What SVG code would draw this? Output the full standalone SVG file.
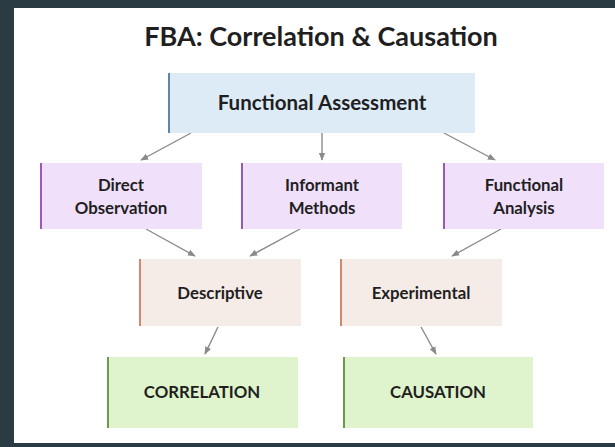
<svg xmlns="http://www.w3.org/2000/svg" width="615" height="447" viewBox="0 0 615 447">
  <style>
    text { font-family: Lato, "Open Sans", "Liberation Sans", sans-serif; font-weight: bold; fill: #1f1f1f; text-anchor: middle; }
    .title { font-size: 27px; }
    .lbl { font-size: 16.8px; }
    .lbl-top { font-size: 20.5px; }
    .edge { stroke: #8a8a8a; stroke-width: 1.4; fill: none; marker-end: url(#arrow); }
    .blue { fill: #ddebf7; }
    .purple { fill: #f0e0fa; }
    .peach { fill: #f6ece7; }
    .green { fill: #dff4cc; }
    .bar-blue { stroke: #5b87a8; stroke-width: 2; }
    .bar-purple { stroke: #9b59b6; stroke-width: 2; }
    .bar-peach { stroke: #d0896a; stroke-width: 2; }
    .bar-green { stroke: #6b9a4f; stroke-width: 2; }
  </style>
  <defs>
    <marker id="arrow" viewBox="0 0 10 10" refX="9" refY="5" markerWidth="8" markerHeight="8" markerUnits="userSpaceOnUse" orient="auto">
      <path d="M0,1 L10,5 L0,9 z" fill="#8a8a8a"/>
    </marker>
  </defs>

  <!-- frame -->
  <rect x="0" y="0" width="615" height="447" fill="#2b3b44"/>
  <rect x="14" y="8" width="601" height="435" fill="#ffffff"/>

  <text class="title" x="321" y="46">FBA: Correlation &amp; Causation</text>

  <g id="connectors">
    <line class="edge" x1="191" y1="133" x2="141" y2="160"/>
    <line class="edge" x1="322" y1="133" x2="322" y2="160"/>
    <line class="edge" x1="444" y1="133" x2="495" y2="160"/>
    <line class="edge" x1="146" y1="229" x2="195" y2="256"/>
    <line class="edge" x1="300" y1="229" x2="250" y2="256"/>
    <line class="edge" x1="501" y1="229" x2="452" y2="256"/>
    <line class="edge" x1="218" y1="327" x2="205" y2="354"/>
    <line class="edge" x1="421" y1="327" x2="436" y2="354"/>
  </g>

  <g id="functional-assessment">
    <rect class="blue" x="168" y="73" width="307" height="60"/>
    <line class="bar-blue" x1="169" y1="73" x2="169" y2="133"/>
    <text class="lbl-top" x="322" y="110">Functional Assessment</text>
  </g>

  <g id="direct-observation">
    <rect class="purple" x="40" y="163" width="162" height="66"/>
    <line class="bar-purple" x1="41" y1="163" x2="41" y2="229"/>
    <text class="lbl" x="121" y="191">Direct</text>
    <text class="lbl" x="121" y="214">Observation</text>
  </g>

  <g id="informant-methods">
    <rect class="purple" x="241" y="163" width="161" height="66"/>
    <line class="bar-purple" x1="242" y1="163" x2="242" y2="229"/>
    <text class="lbl" x="322" y="191">Informant</text>
    <text class="lbl" x="322" y="214">Methods</text>
  </g>

  <g id="functional-analysis">
    <rect class="purple" x="443" y="163" width="161" height="66"/>
    <line class="bar-purple" x1="444" y1="163" x2="444" y2="229"/>
    <text class="lbl" x="524" y="191">Functional</text>
    <text class="lbl" x="524" y="214">Analysis</text>
  </g>

  <g id="descriptive">
    <rect class="peach" x="139" y="259" width="162" height="67"/>
    <line class="bar-peach" x1="140" y1="259" x2="140" y2="326"/>
    <text class="lbl" x="220" y="299">Descriptive</text>
  </g>

  <g id="experimental">
    <rect class="peach" x="340" y="259" width="162" height="67"/>
    <line class="bar-peach" x1="341" y1="259" x2="341" y2="326"/>
    <text class="lbl" x="421" y="299">Experimental</text>
  </g>

  <g id="correlation">
    <rect class="green" x="107" y="357" width="191" height="71"/>
    <line class="bar-green" x1="108" y1="357" x2="108" y2="428"/>
    <text class="lbl" x="202" y="398">CORRELATION</text>
  </g>

  <g id="causation">
    <rect class="green" x="343" y="357" width="190" height="71"/>
    <line class="bar-green" x1="344" y1="357" x2="344" y2="428"/>
    <text class="lbl" x="438" y="398">CAUSATION</text>
  </g>
</svg>
